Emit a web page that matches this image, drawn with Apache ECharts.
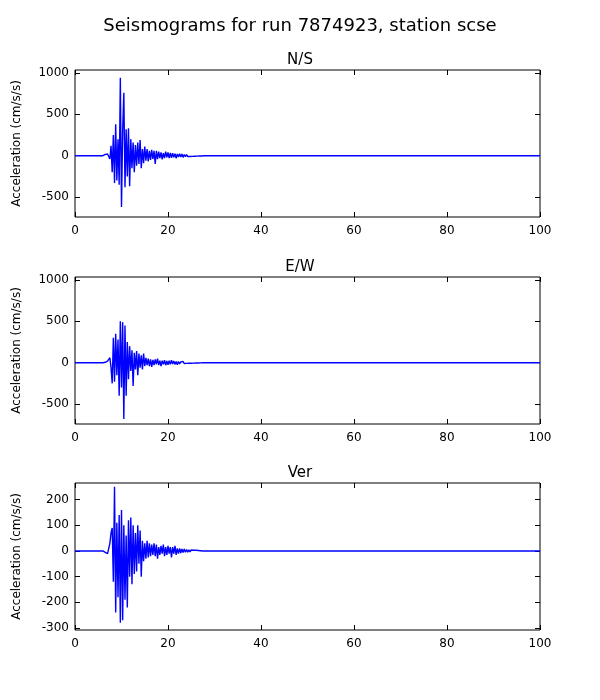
<!DOCTYPE html>
<html>
<head>
<meta charset="utf-8">
<script src="https://cdn.jsdelivr.net/npm/echarts@6/dist/echarts.min.js"></script>
<style>html,body{margin:0;background:#fff}#c{width:600px;height:700px}</style>
</head>
<body>
<div id="c"></div>
<script>
const times = [6,6.25,6.5,6.75,7,7.25,7.5,7.75,8,8.25,8.5,8.75,9,9.25,9.5,9.75,10,10.25,10.5,10.75,
  11,11.25,11.5,11.75,12,12.25,12.5,12.75,13,13.25,13.5,13.75,14,14.25,14.5,14.75,15,15.25,15.5,15.75,
  16,16.25,16.5,16.75,17,17.25,17.5,17.75,18,18.25,18.5,18.75,19,19.25,19.5,19.75,20,20.25,20.5,20.75,
  21,21.25,21.5,21.75,22,22.25,22.5,22.75,23,23.25,23.5,23.75,24,24.25,24.5,24.75,25,25.25,25.5,25.75,
  26,26.25,26.5,26.75,27,27.25,27.5,27.75,28];

const ns = [0,5,15,25,20,5,-40,120,-200,250,-330,380,-300,200,-350,940,-620,300,760,-380,
  320,-250,330,-370,200,-150,160,-200,130,-120,160,-100,190,-150,80,-90,110,-60,80,-70,
  60,-50,70,-40,60,-100,60,-40,50,-30,40,-45,30,-30,50,-20,40,-30,35,-25,
  30,-20,25,-30,20,-15,25,-15,20,-20,15,-10,15,-10,12,-10,10,-8,8,-6,
  8,-5,6,-4,4,-3,2,0,0];

const ew = [0,0,5,10,20,10,60,-60,-250,300,-230,350,-150,280,-400,500,-300,490,-680,450,
  -400,250,-200,200,-100,150,-280,120,-80,140,-150,110,-60,90,-80,110,-40,60,-30,50,
  -40,40,-50,35,-30,40,-20,50,-30,25,-40,25,-20,30,-30,20,-25,25,-20,30,
  -15,20,-20,15,-25,15,-15,10,-10,15,-10,8,-8,10,-6,6,-6,5,-5,4,
  -4,3,-3,2,-2,1,0,0,0];

const ver = [0,-2,-5,-8,-10,-5,30,70,90,-120,250,-240,110,-180,140,-280,160,-270,100,-190,
  60,-220,120,-100,130,-130,100,-90,70,-80,100,-50,80,-100,40,-40,30,-30,40,-25,
  30,-20,25,-15,30,-20,25,-30,15,-15,20,-10,25,-20,15,-15,20,-10,15,-25,
  15,-10,20,-15,10,-10,10,-8,8,-6,8,-5,6,-5,5,-4,4,-3,3,-3,
  3,-2,2,-1,1,0,0,0,0];

const panels = [
  { title: 'N/S', values: ns, min: -740, max: 1035, ticks: [-500, 0, 500, 1000], top: 70 },
  { title: 'E/W', values: ew, min: -740, max: 1035, ticks: [-500, 0, 500, 1000], top: 277 },
  { title: 'Ver', values: ver, min: -308, max: 265, ticks: [-300, -200, -100, 0, 100, 200], top: 483 },
];
const xTicks = [0, 20, 40, 60, 80, 100];

const font = 'DejaVu Sans';
const grid = [], xAxis = [], yAxis = [], series = [], title = [
  { text: 'Seismograms for run 7874923, station scse', left: 'center', top: 12,
    textStyle: { fontFamily: font, fontSize: 18, fontWeight: 'normal', color: '#000' } }
];

panels.forEach((p, i) => {
  grid.push({ left: 75, right: 60, top: p.top, height: 147, show: true, borderColor: '#000', borderWidth: 1,
    containLabel: false, outerBoundsMode: 'none' });
  title.push({ text: p.title, left: 'center', top: p.top - 22,
    textStyle: { fontFamily: font, fontSize: 15, fontWeight: 'normal', color: '#000' } });
  const tick = { show: true, inside: true, length: 5, lineStyle: { color: '#000' } };
  const line = { show: false, onZero: false };
  const fmt = v => String(v);
  xAxis.push({ type: 'value', gridIndex: i, min: 0, max: 100,
    axisLine: line, splitLine: { show: false },
    axisTick: Object.assign({ customValues: xTicks }, tick),
    axisLabel: { customValues: xTicks, formatter: fmt, fontFamily: font, fontSize: 12, color: '#000', margin: 8 } });
  xAxis.push({ type: 'value', gridIndex: i, position: 'top', min: 0, max: 100,
    axisLine: line, splitLine: { show: false },
    axisTick: Object.assign({ customValues: xTicks }, tick), axisLabel: { show: false } });
  yAxis.push({ type: 'value', gridIndex: i, min: p.min, max: p.max,
    name: 'Acceleration (cm/s/s)', nameLocation: 'middle', nameGap: 52,
    nameTextStyle: { fontFamily: font, fontSize: 12, color: '#000' },
    axisLine: line, splitLine: { show: false },
    axisTick: Object.assign({ customValues: p.ticks }, tick),
    axisLabel: { customValues: p.ticks, formatter: fmt, fontFamily: font, fontSize: 12, color: '#000', margin: 6 } });
  yAxis.push({ type: 'value', gridIndex: i, position: 'right', min: p.min, max: p.max,
    axisLine: line, splitLine: { show: false },
    axisTick: Object.assign({ customValues: p.ticks }, tick), axisLabel: { show: false } });
  const data = [[0, 0]].concat(times.map((t, k) => [t, p.values[k]]), [[100, 0]]);
  series.push({ type: 'line', xAxisIndex: i * 2, yAxisIndex: i * 2, data: data,
    showSymbol: false, lineStyle: { color: '#0000ff', width: 1.4 }, animation: false });
});

const chart = echarts.init(document.getElementById('c'));
chart.setOption({ backgroundColor: '#fff', animation: false, title, grid, xAxis, yAxis, series });
</script>
</body>
</html>
